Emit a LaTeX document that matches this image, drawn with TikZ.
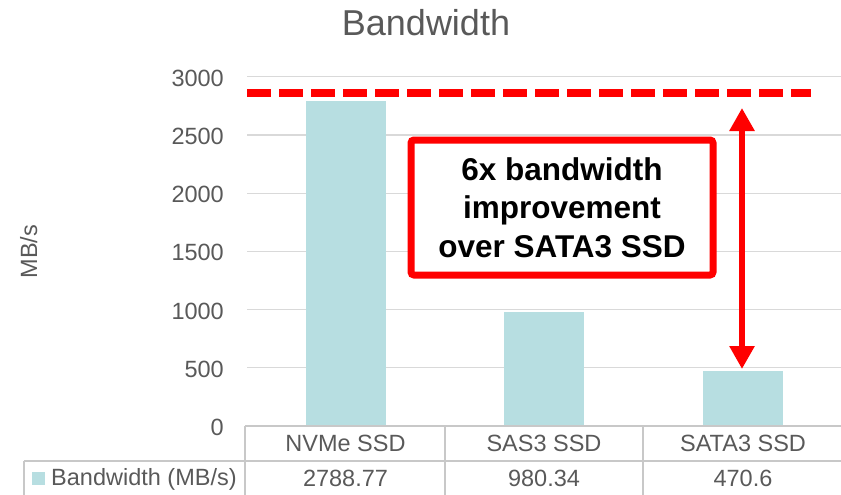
\documentclass[tikz,border=0pt]{standalone}
\usepackage{fontspec}
\setmainfont{Liberation Sans}
\usetikzlibrary{arrows.meta}
\definecolor{txtgray}{RGB}{89,89,89}
\definecolor{gridgray}{RGB}{217,217,217}
\definecolor{tabgray}{RGB}{200,200,200}
\definecolor{barteal}{RGB}{183,222,225}
\definecolor{hired}{RGB}{255,0,0}

\tikzset{
    ticklabel/.style={anchor=base east, inner sep=0pt},
    celltext/.style={anchor=base, inner sep=0pt},
    tabline/.style={tabgray, line width=1.5pt},
}

\begin{document}
\begin{tikzpicture}[x=1pt, y=-1pt, txtgray, font=\fontsize{23.5}{28}\selectfont]
    \useasboundingbox (0,0) rectangle (841,495);

    % title and axis label
    \node[anchor=base, inner sep=0pt, font=\fontsize{36}{40}\selectfont] (title) at (426,36) {Bandwidth};
    \node[rotate=90, anchor=base, inner sep=0pt] (ylabel) at (37,251.5) {MB/s};

    % grid
    \foreach \v [count=\k from 0] in {0,500,...,3000} {
        \ifnum\k>0
            \draw[gridgray, line width=1.3pt] (247,{426-\k*58.2}) -- (841,{426-\k*58.2});
        \fi
        \node[ticklabel] (tick\v) at (224,{435.5-\k*58.2}) {\v};
    }

    % bars
    \foreach \name/\xc/\val in {nvme/345.5/2788.77, sas/544/980.34, sata/743/470.6} {
        \fill[barteal] ({\xc-40},426) rectangle ({\xc+40},{426-\val*0.1164});
        \coordinate (\name top) at (\xc,{426-\val*0.1164});
    }

    % data table
    \draw[tabline] (245,426) -- (841,426);
    \draw[tabline] (24,461) -- (841,461);
    \draw[tabline] (24,461) -- (24,495);
    \foreach \xl in {245,445,643}
        \draw[tabline] (\xl,426) -- (\xl,495);
    \foreach \name/\xc/\lab/\val in {nvme/345.5/NVMe SSD/2788.77, sas/544/SAS3 SSD/980.34, sata/743/SATA3 SSD/470.6} {
        \node[celltext] (\name cat) at (\xc,451) {\lab};
        \node[celltext] (\name val) at (\xc,486) {\val};
    }
    \fill[barteal] (32,472) rectangle (45,485);
    \node[anchor=base west, inner sep=0pt] (legend) at (51,485) {Bandwidth (MB/s)};

    % annotation
    \coordinate (dashstart) at (247,93);
    \coordinate (dashend) at (811,93);
    \draw[hired, line width=8pt, dash pattern=on 24pt off 8pt] (dashstart) -- (dashend);
    \coordinate (gaptop) at (742,108);
    \coordinate (gapbot) at (742,369);
    \draw[hired, line width=6pt, {Triangle[length=23pt,width=24pt]}-{Triangle[length=23pt,width=24pt]}] (gaptop) -- (gapbot);
    \node[draw=hired, line width=7pt, rounded corners=3pt, fill=white, text=black,
          minimum width=302pt, minimum height=135pt, align=center,
          font=\bfseries\fontsize{31.5}{38.5}\selectfont] (callout) at (562,207.5)
          {6x bandwidth\\improvement\\over SATA3 SSD};

\end{tikzpicture}
\end{document}
